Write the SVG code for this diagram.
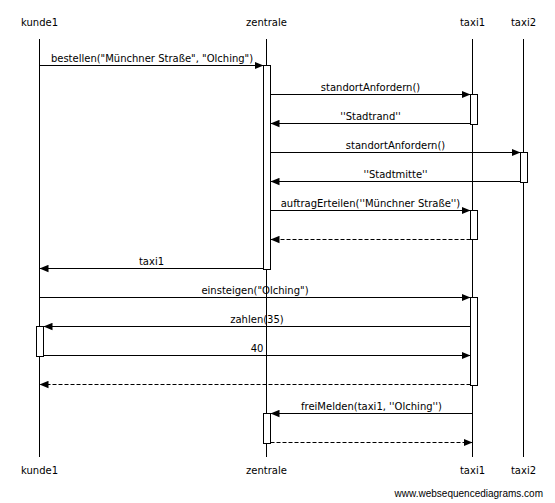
<svg xmlns="http://www.w3.org/2000/svg" width="555" height="503" viewBox="0 0 555 503">
<style>
text{font-family:"DejaVu Sans","Liberation Sans",sans-serif;font-size:10px;fill:#000}
.m{text-anchor:middle}
.ll{stroke:#000;stroke-width:1;fill:none}
.act{fill:#fff;stroke:#000;stroke-width:1}
.msg{stroke:#000;stroke-width:1;fill:none;marker-end:url(#ah)}
.ret{stroke:#000;stroke-width:1;fill:none;stroke-dasharray:4,2;marker-end:url(#ah)}
.wm{font-family:"Liberation Sans",Arial,sans-serif;font-size:10px;text-anchor:end}
</style>
<defs>
<marker id="ah" markerUnits="userSpaceOnUse" markerWidth="10" markerHeight="8" refX="9" refY="4" orient="auto">
<path d="M0,0.3 L9,4 L0,7.7 Z" fill="#000"/>
</marker>
</defs>
<rect width="555" height="503" fill="#fff"/>
<g id="kunde1">
<text class="m" x="39.5" y="26">kunde1</text>
<line class="ll" x1="39.5" y1="39" x2="39.5" y2="457"/>
<text class="m" x="39.5" y="474">kunde1</text>
</g>
<g id="zentrale">
<text class="m" x="266.5" y="26">zentrale</text>
<line class="ll" x1="266.5" y1="39" x2="266.5" y2="457"/>
<text class="m" x="266.5" y="474">zentrale</text>
</g>
<g id="taxi1">
<text class="m" x="472.5" y="26">taxi1</text>
<line class="ll" x1="472.5" y1="39" x2="472.5" y2="457"/>
<text class="m" x="472.5" y="474">taxi1</text>
</g>
<g id="taxi2">
<text class="m" x="523.5" y="26">taxi2</text>
<line class="ll" x1="523.5" y1="39" x2="523.5" y2="457"/>
<text class="m" x="523.5" y="474">taxi2</text>
</g>
<g id="activations">
<rect class="act" x="263.5" y="65.5" width="7" height="204"/>
<rect class="act" x="470.5" y="94.5" width="7" height="30"/>
<rect class="act" x="520.5" y="152.5" width="7" height="30"/>
<rect class="act" x="470.5" y="210.5" width="7" height="29"/>
<rect class="act" x="470.5" y="297.5" width="7" height="88"/>
<rect class="act" x="36.5" y="326.5" width="7" height="30"/>
<rect class="act" x="263.5" y="413.5" width="7" height="30"/>
</g>
<g id="connectors">
<line class="msg" x1="39.5" y1="65.5" x2="263.5" y2="65.5"/>
<text class="m" x="152" y="62">bestellen("Münchner Straße", "Olching")</text>
<line class="msg" x1="270.5" y1="94.5" x2="470.5" y2="94.5"/>
<text class="m" x="370.5" y="91">standortAnfordern()</text>
<line class="msg" x1="470.5" y1="123.5" x2="270.5" y2="123.5"/>
<text class="m" x="370.5" y="120">''Stadtrand''</text>
<line class="msg" x1="270.5" y1="152.5" x2="520.5" y2="152.5"/>
<text class="m" x="395.5" y="149">standortAnfordern()</text>
<line class="msg" x1="520.5" y1="181.5" x2="270.5" y2="181.5"/>
<text class="m" x="395.5" y="178">''Stadtmitte''</text>
<line class="msg" x1="270.5" y1="210.5" x2="470.5" y2="210.5"/>
<text class="m" x="370.5" y="207">auftragErteilen(''Münchner Straße'')</text>
<line class="ret" x1="470.5" y1="239.5" x2="270.5" y2="239.5"/>
<line class="msg" x1="263.5" y1="268.5" x2="39.5" y2="268.5"/>
<text class="m" x="151.5" y="265">taxi1</text>
<line class="msg" x1="39.5" y1="297.5" x2="470.5" y2="297.5"/>
<text class="m" x="255" y="294">einsteigen("Olching")</text>
<line class="msg" x1="470.5" y1="326.5" x2="43.5" y2="326.5"/>
<text class="m" x="257" y="323">zahlen(35)</text>
<line class="msg" x1="43.5" y1="355.5" x2="470.5" y2="355.5"/>
<text class="m" x="257" y="352">40</text>
<line class="ret" x1="470.5" y1="384.5" x2="39.5" y2="384.5"/>
<line class="msg" x1="472.5" y1="413.5" x2="270.5" y2="413.5"/>
<text class="m" x="371.5" y="410">freiMelden(taxi1, ''Olching'')</text>
<line class="ret" x1="270.5" y1="442.5" x2="472.5" y2="442.5"/>
</g>
<text class="wm" x="543" y="497">www.websequencediagrams.com</text>
</svg>
